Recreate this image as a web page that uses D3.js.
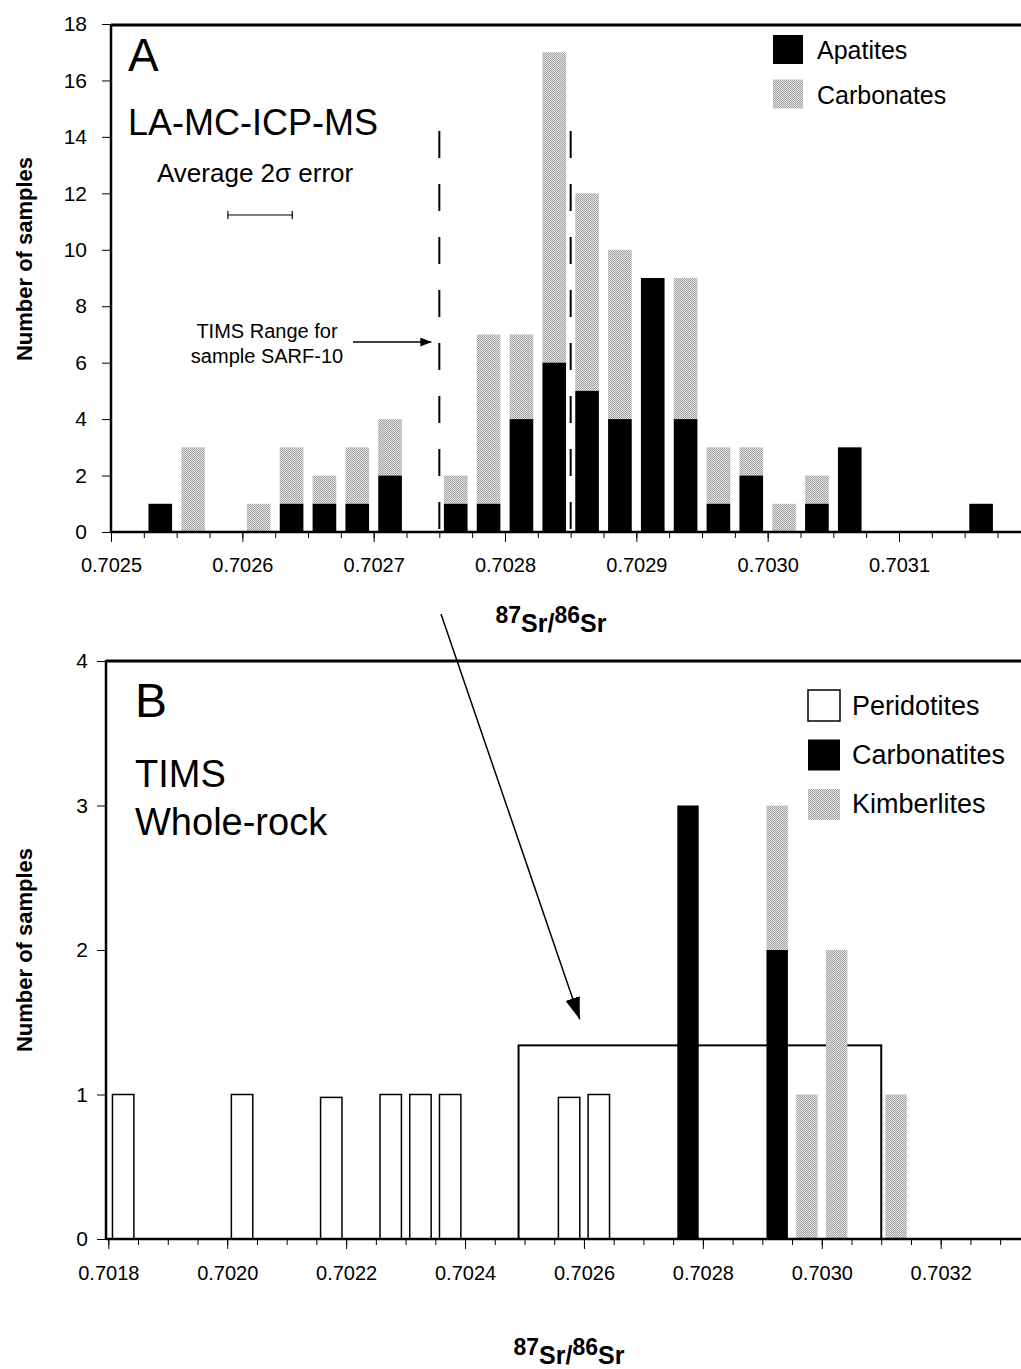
<!DOCTYPE html>
<html>
<head>
<meta charset="utf-8">
<script src="https://cdn.jsdelivr.net/npm/d3@7"></script>
<style>
  body { margin: 0; background: #fff; }
  svg text { font-family: "Liberation Sans", Arial, Helvetica, sans-serif; fill: #000; }
</style>
</head>
<body>
<div class="chartWrapper"></div>
<script>
// Panel A: LA-MC-ICP-MS histogram, bins of 0.000025 (bin start values)
var binA = [0.702525, 0.70255, 0.7026, 0.702625, 0.70265, 0.702675, 0.7027,
            0.70275, 0.702775, 0.7028, 0.702825, 0.70285, 0.702875, 0.7029,
            0.702925, 0.70295, 0.702975, 0.703, 0.703025, 0.70305, 0.70315]
var apatites   = [1, 0, 0, 1, 1, 1, 2, 1, 1, 4, 6, 5, 4, 9, 4, 1, 2, 0, 1, 3, 1]
var carbonates = [0, 3, 1, 2, 1, 2, 2, 1, 6, 3, 11, 7, 6, 0, 5, 2, 1, 1, 1, 0, 0]
var binWidthA = 0.000025
var ticksA = [0.7025, 0.7026, 0.7027, 0.7028, 0.7029, 0.7030, 0.7031]
var yTicksA = [0, 2, 4, 6, 8, 10, 12, 14, 16, 18]
var timsRange = [0.70275, 0.70285]
var avgError = [0.702589, 0.702638]

// Panel B: TIMS whole-rock, bins of 0.00005
var binB = [0.7018, 0.7020, 0.70215, 0.70225, 0.7023, 0.70235, 0.70255,
            0.7026, 0.70275, 0.7029, 0.70295, 0.7030, 0.7031]
var peridotites  = [1, 1, 0.98, 1, 1, 1, 0.98, 1, 0, 0, 0, 0, 0]
var carbonatites = [0, 0, 0, 0, 0, 0, 0, 0, 3, 2, 0, 0, 0]
var kimberlites  = [0, 0, 0, 0, 0, 0, 0, 0, 0, 1, 1, 2, 1]
var binWidthB = 0.00005
var ticksB = [0.7018, 0.7020, 0.7022, 0.7024, 0.7026, 0.7028, 0.7030, 0.7032]
var yTicksB = [0, 1, 2, 3, 4]
var laRangeBox = [0.70249, 0.7031, 1.34]

var W = 1021, H = 1369

var svg = d3.select('.chartWrapper').append('svg')
    .attr('width', W)
    .attr('height', H)

svg.append('rect').attr('width', W).attr('height', H).attr('fill', '#fff')

var defs = svg.append('defs')
var pat = defs.append('pattern')
    .attr('id', 'stip')
    .attr('width', 2).attr('height', 2)
    .attr('patternUnits', 'userSpaceOnUse')
pat.append('rect').attr('width', 2).attr('height', 2).attr('fill', '#e2e2e2')
pat.append('rect').attr('width', 1).attr('height', 1).attr('fill', '#a4a4a4')
pat.append('rect').attr('x', 1).attr('y', 1).attr('width', 1).attr('height', 1).attr('fill', '#a4a4a4')

function arrowMarker(id, len, wid) {
    defs.append('marker')
        .attr('id', id)
        .attr('markerUnits', 'userSpaceOnUse')
        .attr('viewBox', '0 0 ' + len + ' ' + wid)
        .attr('refX', len).attr('refY', wid / 2)
        .attr('markerWidth', len).attr('markerHeight', wid)
        .attr('orient', 'auto')
        .append('path')
        .attr('d', 'M0,0L' + len + ',' + wid / 2 + 'L0,' + wid + 'Z')
        .attr('fill', '#000')
}
arrowMarker('arrSmall', 11, 9)
arrowMarker('arrBig', 22, 15)

// panel frame + axes helper
function drawFrame(x, y, left, top, bottom, xTicks, minorStep, yTicks, yPad, labelPad) {
    // top border
    svg.append('line')
        .attr('x1', left).attr('x2', W).attr('y1', top).attr('y2', top)
        .attr('stroke', '#000').attr('stroke-width', 3)
    // left axis
    var yAxis = d3.axisLeft(y).tickValues(yTicks).tickSize(9).tickPadding(yPad)
        .tickSizeOuter(0).tickFormat(d3.format('d'))
    var gy = svg.append('g').attr('transform', 'translate(' + left + ',0)').call(yAxis)
    gy.select('.domain').remove()
    gy.selectAll('text').style('font-size', '21px')
    svg.append('line')
        .attr('x1', left).attr('x2', left).attr('y1', top - 1).attr('y2', bottom)
        .attr('stroke', '#000').attr('stroke-width', 2.5)

    // minor ticks
    var xEnd = x.invert(W)
    var minors = d3.range(xTicks[0], xEnd, minorStep)
    var gMinor = svg.append('g').attr('transform', 'translate(0,' + bottom + ')')
        .call(d3.axisBottom(x).tickValues(minors).tickSize(6).tickFormat(''))
    gMinor.select('.domain').remove()

    var gx = svg.append('g').attr('transform', 'translate(0,' + bottom + ')')
        .call(d3.axisBottom(x).tickValues(xTicks).tickSize(10).tickPadding(labelPad)
            .tickFormat(d3.format('.4f')))
    gx.select('.domain').remove()
    gx.selectAll('text').style('font-size', '20px')
}

function drawAxisTitle(cx, baseline) {
    var t = svg.append('text')
        .attr('x', cx).attr('y', baseline)
        .attr('text-anchor', 'middle')
        .style('font-weight', 'bold')
        .style('font-size', '25px')
    t.append('tspan').text('87').attr('dy', -9).style('font-size', '23px')
    t.append('tspan').text('Sr/').attr('dy', 9)
    t.append('tspan').text('86').attr('dy', -9).style('font-size', '23px')
    t.append('tspan').text('Sr').attr('dy', 9)
}

function drawYTitle(cx, cy) {
    svg.append('text')
        .attr('transform', 'translate(' + cx + ',' + cy + ') rotate(-90)')
        .attr('text-anchor', 'middle')
        .style('font-weight', 'bold')
        .style('font-size', '22px')
        .text('Number of samples')
}

// ---------------- Panel A ----------------
var xA = d3.scaleLinear().domain([0.7025, 0.7031]).range([111, 899])
var yA = d3.scaleLinear().domain([0, 18]).range([532, 24])

var dataA = binA.map(function(b, i) { return {bin: b, ap: apatites[i], ca: carbonates[i]} })

function barX(x, b, w) { return x(b + w * 0.14) }
function barW(x, b, w) { return x(b + w * 0.86) - x(b + w * 0.14) }

var gA = svg.append('g')
gA.selectAll('rect.ca')
    .data(dataA.filter(function(d) { return d.ca > 0 }))
    .enter().append('rect')
    .attr('x', function(d) { return barX(xA, d.bin, binWidthA) })
    .attr('width', function(d) { return barW(xA, d.bin, binWidthA) })
    .attr('y', function(d) { return yA(d.ap + d.ca) })
    .attr('height', function(d) { return yA(d.ap) - yA(d.ap + d.ca) })
    .attr('fill', 'url(#stip)')
gA.selectAll('rect.ap')
    .data(dataA.filter(function(d) { return d.ap > 0 }))
    .enter().append('rect')
    .attr('x', function(d) { return barX(xA, d.bin, binWidthA) })
    .attr('width', function(d) { return barW(xA, d.bin, binWidthA) })
    .attr('y', function(d) { return yA(d.ap) })
    .attr('height', function(d) { return yA(0) - yA(d.ap) })
    .attr('fill', '#000')

// TIMS range of SARF-10 (dashed)
gA.selectAll('line.tims')
    .data(timsRange)
    .enter().append('line')
    .attr('x1', function(d) { return xA(d) }).attr('x2', function(d) { return xA(d) })
    .attr('y1', 131).attr('y2', yA(0))
    .attr('stroke', '#000').attr('stroke-width', 2)
    .attr('stroke-dasharray', '27,26')

drawFrame(xA, yA, 111, 25, 532, ticksA, binWidthA, yTicksA, 15, 16)
svg.append('line')
    .attr('x1', 111).attr('x2', W).attr('y1', 532).attr('y2', 532)
    .attr('stroke', '#000').attr('stroke-width', 2.5)

// average 2 sigma error bar
var errY = 215
svg.append('line').attr('x1', xA(avgError[0])).attr('x2', xA(avgError[1]))
    .attr('y1', errY).attr('y2', errY).attr('stroke', '#000').attr('stroke-width', 1.2)
avgError.forEach(function(e) {
    svg.append('line').attr('x1', xA(e)).attr('x2', xA(e))
        .attr('y1', errY - 4).attr('y2', errY + 4).attr('stroke', '#000').attr('stroke-width', 1.2)
})

svg.append('text').attr('x', 128).attr('y', 71).style('font-size', '46px').text('A')
svg.append('text').attr('x', 128).attr('y', 135).style('font-size', '36px').text('LA-MC-ICP-MS')
svg.append('text').attr('x', 157).attr('y', 182).style('font-size', '26px').text('Average 2σ error')

var timsNote = svg.append('text').attr('text-anchor', 'middle').style('font-size', '20px')
timsNote.append('tspan').attr('x', 267).attr('y', 338).text('TIMS Range for')
timsNote.append('tspan').attr('x', 267).attr('y', 363).text('sample SARF-10')
svg.append('line')
    .attr('x1', 353).attr('x2', xA(timsRange[0]) - 8)
    .attr('y1', 342).attr('y2', 342)
    .attr('stroke', '#000').attr('stroke-width', 1.5)
    .attr('marker-end', 'url(#arrSmall)')

// legend A
var legA = [{label: 'Apatites', fill: '#000'}, {label: 'Carbonates', fill: 'url(#stip)'}]
legA.forEach(function(d, i) {
    svg.append('rect').attr('x', 773).attr('y', 35 + i * 44.5).attr('width', 30).attr('height', 29).attr('fill', d.fill)
    svg.append('text').attr('x', 817).attr('y', 58.5 + i * 45).style('font-size', '25px').text(d.label)
})

drawAxisTitle(551, 632)
drawYTitle(32, 259)

// ---------------- Panel B ----------------
var xB = d3.scaleLinear().domain([0.7018, 0.7032]).range([108.3, 940.7])
var yB = d3.scaleLinear().domain([0, 4]).range([1239, 661])

var dataB = binB.map(function(b, i) {
    return {bin: b, pe: peridotites[i], cb: carbonatites[i], ki: kimberlites[i]}
})

var gB = svg.append('g')
// box outlining the LA-MC-ICP-MS range of panel A
gB.append('rect')
    .attr('x', xB(laRangeBox[0]))
    .attr('width', xB(laRangeBox[1]) - xB(laRangeBox[0]))
    .attr('y', yB(laRangeBox[2]))
    .attr('height', yB(0) - yB(laRangeBox[2]))
    .attr('fill', 'none').attr('stroke', '#000').attr('stroke-width', 2)

gB.selectAll('rect.pe')
    .data(dataB.filter(function(d) { return d.pe > 0 }))
    .enter().append('rect')
    .attr('x', function(d) { return barX(xB, d.bin, binWidthB) })
    .attr('width', function(d) { return barW(xB, d.bin, binWidthB) })
    .attr('y', function(d) { return yB(d.pe) })
    .attr('height', function(d) { return yB(0) - yB(d.pe) })
    .attr('fill', '#fff').attr('stroke', '#000').attr('stroke-width', 1.5)
gB.selectAll('rect.ki')
    .data(dataB.filter(function(d) { return d.ki > 0 }))
    .enter().append('rect')
    .attr('x', function(d) { return barX(xB, d.bin, binWidthB) })
    .attr('width', function(d) { return barW(xB, d.bin, binWidthB) })
    .attr('y', function(d) { return yB(d.cb + d.ki) })
    .attr('height', function(d) { return yB(d.cb) - yB(d.cb + d.ki) })
    .attr('fill', 'url(#stip)')
gB.selectAll('rect.cb')
    .data(dataB.filter(function(d) { return d.cb > 0 }))
    .enter().append('rect')
    .attr('x', function(d) { return barX(xB, d.bin, binWidthB) })
    .attr('width', function(d) { return barW(xB, d.bin, binWidthB) })
    .attr('y', function(d) { return yB(d.cb) })
    .attr('height', function(d) { return yB(0) - yB(d.cb) })
    .attr('fill', '#000')

drawFrame(xB, yB, 106, 661, 1239, ticksB, binWidthB, yTicksB, 9, 17)
svg.append('line')
    .attr('x1', 106).attr('x2', W).attr('y1', 1239).attr('y2', 1239)
    .attr('stroke', '#000').attr('stroke-width', 2.5)

svg.append('text').attr('x', 135).attr('y', 717).style('font-size', '48px').text('B')
svg.append('text').attr('x', 135).attr('y', 787).style('font-size', '38px').text('TIMS')
svg.append('text').attr('x', 135).attr('y', 835).style('font-size', '38px').text('Whole-rock')

// legend B
var legB = [{label: 'Peridotites', fill: '#fff', stroke: '#000'},
            {label: 'Carbonatites', fill: '#000', stroke: 'none'},
            {label: 'Kimberlites', fill: 'url(#stip)', stroke: 'none'}]
legB.forEach(function(d, i) {
    svg.append('rect').attr('x', 808).attr('y', 690 + i * 49.5).attr('width', 32).attr('height', 31)
        .attr('fill', d.fill).attr('stroke', d.stroke).attr('stroke-width', 1.5)
    svg.append('text').attr('x', 852).attr('y', 715 + i * 49).style('font-size', '27px').text(d.label)
})

drawAxisTitle(569, 1364)
drawYTitle(32, 950)

// arrow linking the SARF-10 TIMS range (A) to panel B
svg.append('line')
    .attr('x1', 441).attr('y1', 614)
    .attr('x2', xB(0.702593)).attr('y2', yB(1.52))
    .attr('stroke', '#000').attr('stroke-width', 1.5)
    .attr('marker-end', 'url(#arrBig)')
</script>
</body>
</html>
